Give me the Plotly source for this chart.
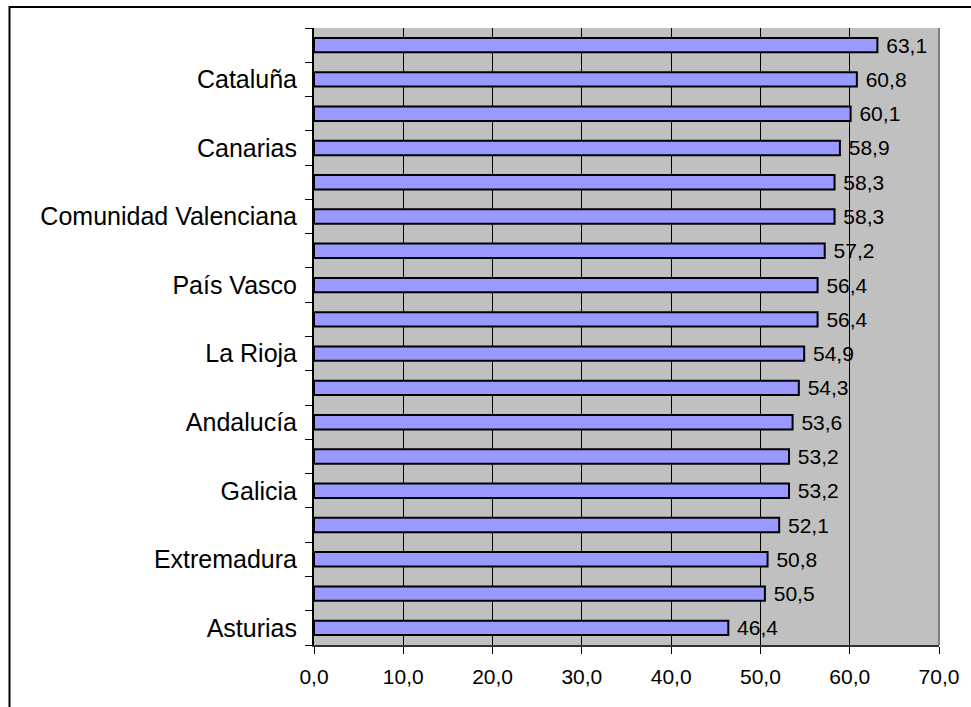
import plotly.graph_objects as go

# Regions ordered top to bottom, with their values (%)
regions = [
    "Madrid", "Cataluña", "Baleares", "Canarias", "Navarra",
    "Comunidad Valenciana", "Murcia", "País Vasco", "Aragón", "La Rioja",
    "Castilla-La Mancha", "Andalucía", "Cantabria", "Galicia",
    "Castilla y León", "Extremadura", "Ceuta y Melilla", "Asturias",
]
values = [63.1, 60.8, 60.1, 58.9, 58.3, 58.3, 57.2, 56.4, 56.4, 54.9,
          54.3, 53.6, 53.2, 53.2, 52.1, 50.8, 50.5, 46.4]
# Only every other region name is shown on the axis
shown_labels = [r if i % 2 == 1 else "" for i, r in enumerate(regions)]

x_ticks = [0, 10, 20, 30, 40, 50, 60, 70]

FONT = "Arial, Liberation Sans, sans-serif"
n = len(regions)
pos = list(range(n))

fig = go.Figure(go.Bar(
    x=values,
    y=pos,
    orientation="h",
    width=0.42,
    marker=dict(color="#9999FF", line=dict(color="black", width=2)),
    # non-breaking space keeps a small gap between bar end and label
    text=["\u00a0" + f"{v:.1f}".replace(".", ",") for v in values],
    textposition="outside",
    constraintext="none",
    cliponaxis=False,
    textfont=dict(family=FONT, size=21, color="black"),
    hoverinfo="skip",
))

label_idx = [i for i in pos if shown_labels[i]]

fig.update_layout(
    width=971, height=707,
    margin=dict(l=314, r=30, t=28, b=62),
    paper_bgcolor="white",
    plot_bgcolor="#C0C0C0",
    showlegend=False,
    separators=",.",
    font=dict(family=FONT, size=21, color="black"),
    xaxis=dict(
        range=[0, 70],
        tickvals=x_ticks,
        tickformat=".1f",
        ticks="outside", ticklen=7, tickcolor="black", tickwidth=1,
        showgrid=True, gridcolor="black", gridwidth=1,
        showline=True, linecolor="#303030", linewidth=2,
        zeroline=False,
        ticklabelstandoff=5,
        tickfont=dict(family=FONT, size=21, color="black"),
    ),
    yaxis=dict(
        range=[n - 0.5, -0.5],
        tickmode="array",
        tickvals=label_idx,
        ticktext=[shown_labels[i] for i in label_idx],
        ticks="",
        showgrid=False,
        zeroline=False,
        showline=True, linecolor="black", linewidth=2,
        ticklabelstandoff=10,
        tickfont=dict(family=FONT, size=25, color="black"),
        minor=dict(
            tickmode="array",
            tickvals=[i - 0.5 for i in range(n + 1)],
            ticks="outside", ticklen=7, tickcolor="black", tickwidth=1,
            showgrid=False,
        ),
    ),
    shapes=[
        # right edge of the plotting area
        dict(type="line", xref="paper", yref="paper", x0=1, x1=1, y0=0, y1=1,
             line=dict(color="#808080", width=2)),
        # chart frame (left and top edges)
        dict(type="path", xref="paper", yref="paper",
             path="M -0.4872,-0.2 L -0.4872,1.034 L 1.2,1.034",
             line=dict(color="black", width=2)),
    ],
)

fig.write_html("out.html")
